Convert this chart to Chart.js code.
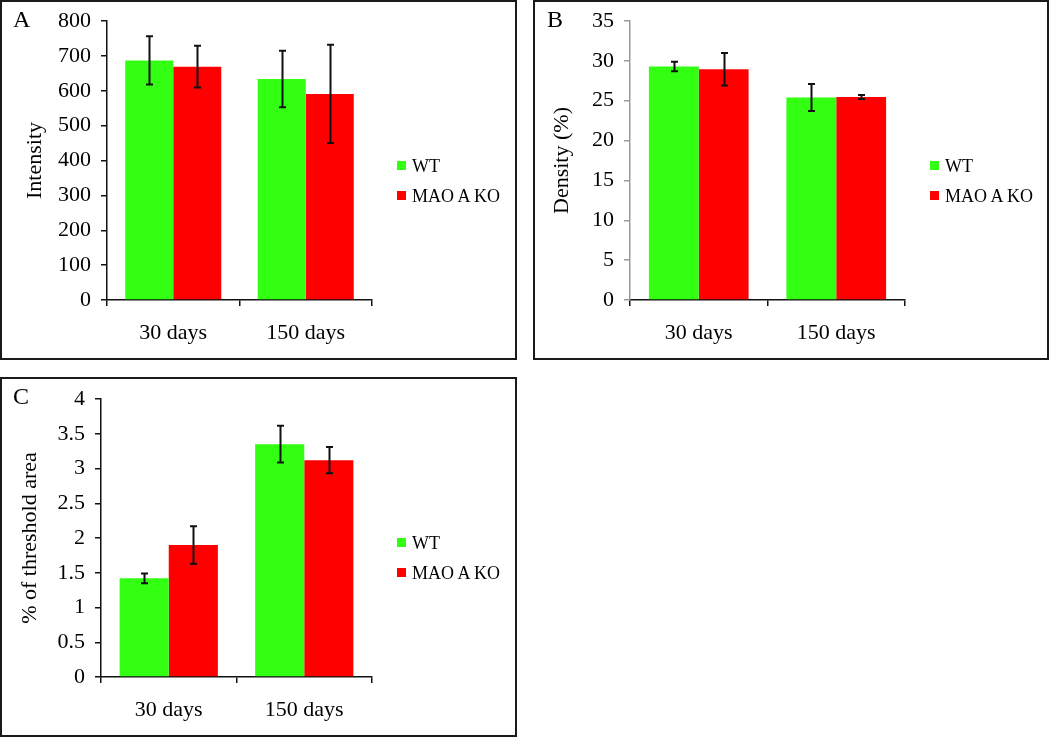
<!DOCTYPE html>
<html>
<head>
<meta charset="utf-8">
<script src="https://cdn.jsdelivr.net/npm/chart.js@4.4.1/dist/chart.umd.min.js"></script>
<style>
  body { margin: 0; background: #fff; font-family: 'Liberation Serif', serif; }
  .panel { position: absolute; border: 2px solid #1a1a1a; box-sizing: border-box; background: #fff; }
  .panel .wrap { position: absolute; left: 0; top: 0; right: 0; bottom: 0; }
  .letter { position: absolute; font-size: 24px; line-height: 1; color: #000; }
  .legend { position: absolute; font-size: 18px; color: #000; }
  .legend .row { position: absolute; left: 0; height: 20px; line-height: 20px; white-space: nowrap; }
  .legend .sw { position: absolute; left: 0; top: 5px; width: 9px; height: 9px; }
  .legend .tx { position: absolute; left: 15px; top: 0; }
</style>
</head>
<body>
<div class="panel" id="pA" style="left:0;top:0;width:517px;height:360px;"><div class="wrap"><canvas id="chartA"></canvas></div></div>
<div class="panel" id="pB" style="left:533px;top:0;width:516px;height:360px;"><div class="wrap"><canvas id="chartB"></canvas></div></div>
<div class="panel" id="pC" style="left:0;top:377px;width:517px;height:360px;"><div class="wrap"><canvas id="chartC"></canvas></div></div>

<div class="letter" style="left:13px;top:7px;">A</div>
<div class="letter" style="left:547px;top:7px;">B</div>
<div class="letter" style="left:13px;top:384px;">C</div>

<div class="legend" id="legA" style="left:397px;top:156px;"></div>
<div class="legend" id="legB" style="left:930px;top:156px;"></div>
<div class="legend" id="legC" style="left:397px;top:533px;"></div>

<script>
// categories and series
const categories = ['30 days', '150 days'];
const seriesNames = ['WT', 'MAO A KO'];
const seriesColors = ['#33ff12', '#ff0000'];

// A - Intensity
const intensityWT = [687, 634];
const intensityWTErr = [69, 81];
const intensityKO = [669, 591];
const intensityKOErr = [60, 141];

// B - Density (%)
const densityWT = [29.3, 25.4];
const densityWTErr = [0.6, 1.7];
const densityKO = [28.95, 25.47];
const densityKOErr = [2.05, 0.25];

// C - % of threshold area
const thresholdWT = [1.42, 3.35];
const thresholdWTErr = [0.07, 0.265];
const thresholdKO = [1.9, 3.12];
const thresholdKOErr = [0.27, 0.19];

const serif = 'Liberation Serif';

// draws the +/- error bars on top of each bar
const errorBarPlugin = {
    id: 'errorBars',
    afterDatasetsDraw(chart) {
        const ctx = chart.ctx;
        const yScale = chart.scales.y;
        ctx.save();
        ctx.strokeStyle = '#111';
        ctx.lineWidth = 2;
        chart.data.datasets.forEach((ds, i) => {
            const meta = chart.getDatasetMeta(i);
            meta.data.forEach((bar, j) => {
                const v = ds.data[j];
                const e = ds.errors[j];
                const yTop = yScale.getPixelForValue(v + e);
                const yBot = yScale.getPixelForValue(v - e);
                const x = Math.round(bar.x) + 0.5;
                ctx.beginPath();
                ctx.moveTo(x, yTop);
                ctx.lineTo(x, yBot);
                ctx.moveTo(x - 3.5, yTop);
                ctx.lineTo(x + 3.5, yTop);
                ctx.moveTo(x - 3.5, yBot);
                ctx.lineTo(x + 3.5, yBot);
                ctx.stroke();
            });
        });
        ctx.restore();
    }
};

function makeChart(id, cfg) {
    const canvas = document.getElementById(id);
    const W = 513, H = 356;
    return new Chart(canvas, {
        type: 'bar',
        data: {
            labels: categories,
            datasets: [{
                label: seriesNames[0],
                data: cfg.wt,
                errors: cfg.wtErr,
                backgroundColor: seriesColors[0],
                borderWidth: 0,
                barPercentage: 1,
                categoryPercentage: 0.725
            }, {
                label: seriesNames[1],
                data: cfg.ko,
                errors: cfg.koErr,
                backgroundColor: seriesColors[1],
                borderWidth: 0,
                barPercentage: 1,
                categoryPercentage: 0.725
            }]
        },
        options: {
            responsive: true,
            maintainAspectRatio: false,
            animation: false,
            layout: {
                padding: { left: 0, top: cfg.area.top, right: W - cfg.area.right, bottom: 0 }
            },
            plugins: {
                legend: { display: false },
                tooltip: { enabled: false }
            },
            scales: {
                x: {
                    afterFit: s => { s.height = H - cfg.area.bottom; },
                    grid: {
                        offset: true,
                        drawOnChartArea: false,
                        drawTicks: true,
                        tickLength: 6,
                        color: '#111',
                        lineWidth: 1.5
                    },
                    border: { color: '#111', width: 1.5 },
                    ticks: {
                        color: '#000',
                        padding: 14,
                        maxRotation: 0,
                        font: { family: serif, size: 22 }
                    }
                },
                y: {
                    min: 0,
                    max: cfg.max,
                    afterFit: s => {
                        s.width = cfg.area.left;
                        s.paddingTop = 0;
                        s.paddingBottom = 0;
                    },
                    grid: {
                        drawOnChartArea: false,
                        drawTicks: true,
                        tickLength: 6,
                        color: cfg.axisColor,
                        lineWidth: 1.5
                    },
                    border: { color: cfg.axisColor, width: 1.5 },
                    ticks: {
                        stepSize: cfg.step,
                        color: '#000',
                        padding: 10,
                        font: { family: serif, size: 22 },
                        callback: v => String(v)
                    },
                    title: {
                        display: true,
                        text: cfg.title,
                        color: '#000',
                        padding: { top: cfg.titlePad, bottom: 0 },
                        font: { family: serif, size: 22 }
                    }
                }
            }
        },
        plugins: [errorBarPlugin]
    });
}

function makeLegend(id) {
    const el = document.getElementById(id);
    seriesNames.forEach((name, i) => {
        const row = document.createElement('div');
        row.className = 'row';
        row.style.top = (i * 30) + 'px';
        row.innerHTML = '<span class="sw" style="background:' + seriesColors[i] + '"></span><span class="tx">' + name + '</span>';
        el.appendChild(row);
    });
}

makeChart('chartA', {
    wt: intensityWT, wtErr: intensityWTErr, ko: intensityKO, koErr: intensityKOErr,
    max: 800, step: 100, title: 'Intensity', titlePad: 20, axisColor: '#111',
    area: { left: 105, right: 370, top: 19, bottom: 298 }
});
makeChart('chartB', {
    wt: densityWT, wtErr: densityWTErr, ko: densityKO, koErr: densityKOErr,
    max: 35, step: 5, title: 'Density (%)', titlePad: 14, axisColor: '#999',
    area: { left: 95, right: 371, top: 19, bottom: 298 }
});
makeChart('chartC', {
    wt: thresholdWT, wtErr: thresholdWTErr, ko: thresholdKO, koErr: thresholdKOErr,
    max: 4, step: 0.5, title: '% of threshold area', titlePad: 15, axisColor: '#111',
    area: { left: 99, right: 370, top: 20, bottom: 298 }
});

makeLegend('legA');
makeLegend('legB');
makeLegend('legC');
</script>
</body>
</html>
